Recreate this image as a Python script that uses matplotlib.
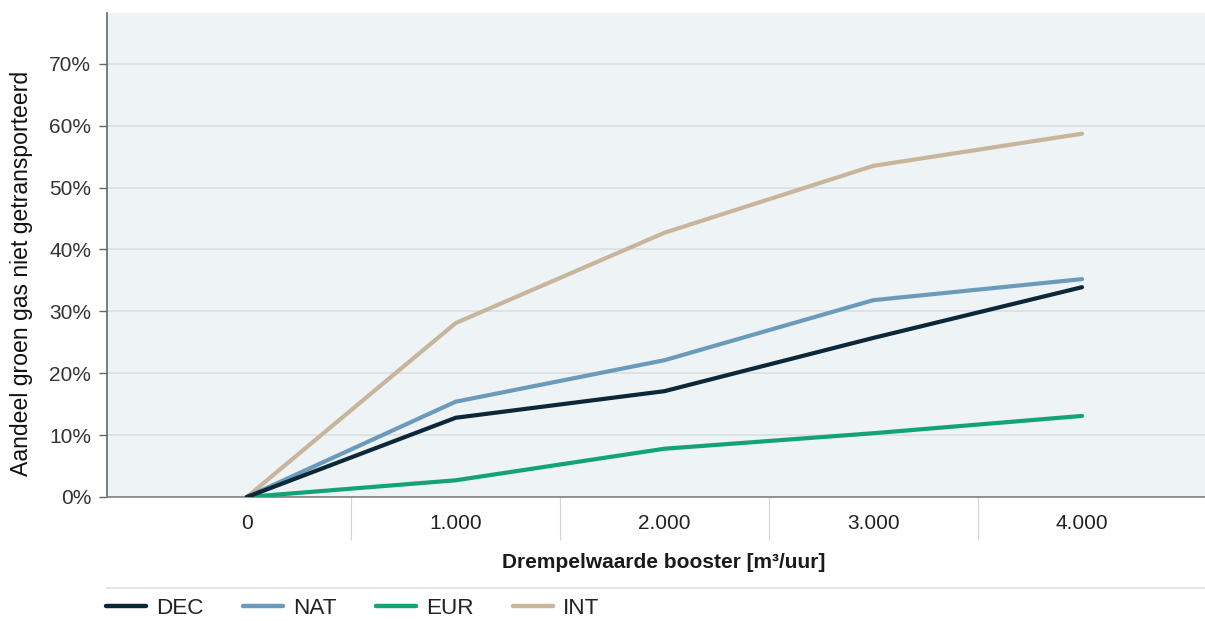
import matplotlib
matplotlib.use("Agg")
import matplotlib.pyplot as plt
from matplotlib.lines import Line2D
from matplotlib.ticker import FixedLocator, FuncFormatter

plt.rcParams['font.family'] = ['Liberation Sans', 'DejaVu Sans']

# Data
x_values = [0, 1000, 2000, 3000, 4000]
x_labels = ["0", "1.000", "2.000", "3.000", "4.000"]
series_names = ["DEC", "NAT", "EUR", "INT"]
dec = [0, 12.8, 17.1, 25.7, 33.9]
nat = [0, 15.4, 22.1, 31.8, 35.2]
eur = [0, 2.7, 7.8, 10.3, 13.1]
int_ = [0, 28.1, 42.7, 53.5, 58.7]
y_ticks = [0, 10, 20, 30, 40, 50, 60, 70]

colors = {"DEC": "#0c2738", "NAT": "#6b9bba", "EUR": "#12a474", "INT": "#c8b69c"}
values = {"DEC": dec, "NAT": nat, "EUR": eur, "INT": int_}

fig = plt.figure(figsize=(12.05, 6.21), dpi=100)
ax = fig.add_axes([107/1205, 1-497/621, 1-107/1205, (497-13)/621])
ax.set_facecolor("#eef3f6")

for name in ["INT", "NAT", "EUR", "DEC"]:
    ax.plot(x_values, values[name], color=colors[name], lw=3.0,
            solid_capstyle="round", zorder=3)

ax.set_xlim(-670, 4589)
ax.set_ylim(0, 78.2)

ax.yaxis.set_major_locator(FixedLocator(y_ticks))
ax.yaxis.set_major_formatter(FuncFormatter(lambda v, p: f"{int(v)}%"))
ax.grid(axis="y", color="#d9dfe3", lw=1.2, zorder=0)
ax.set_axisbelow(True)

ax.set_xticks(x_values)
ax.set_xticklabels(x_labels)
seps = [(x_values[i] + x_values[i+1]) / 2 for i in range(len(x_values) - 1)]
ax.set_xticks(seps, minor=True)
ax.tick_params(axis="x", which="major", length=0, pad=12.5, labelsize=15, labelcolor="#222222")
ax.tick_params(axis="x", which="minor", length=31, width=0.8, color="#d4d4d4", direction="out")
ax.tick_params(axis="y", length=6, width=1, color="#666666", labelsize=15, labelcolor="#333333", pad=5.5)

for s in ["top", "right"]:
    ax.spines[s].set_visible(False)
ax.spines["left"].set_color("#666666")
ax.spines["left"].set_linewidth(1.2)
ax.spines["bottom"].set_color("#808080")
ax.spines["bottom"].set_linewidth(1.2)

ax.set_ylabel("Aandeel groen gas niet getransporteerd", fontsize=16.6, color="#111111")
ax.yaxis.set_label_coords(-(107 - 33) / 1098, (497 - 273) / 484)
ax.set_xlabel("Drempelwaarde booster [m³/uur]", fontsize=15, fontweight="bold",
              color="#1a1a1a", labelpad=7)
ax.xaxis.set_label_coords((664 - 107) / 1098, -(563 - 497) / 484)
ax.xaxis.label.set_verticalalignment("center")

# separator line above legend
fig.add_artist(Line2D([107/1205, 1.0], [1-588/621, 1-588/621], color="#e0e0e0", lw=1.2))

handles = [Line2D([0], [0], color=colors[n], lw=3.2, solid_capstyle="round") for n in series_names]
leg = fig.legend(handles, series_names, loc="center left", bbox_to_anchor=(97/1205, 1-608/621),
                 ncol=4, frameon=False, fontsize=16.2, handlelength=1.78, handletextpad=0.45,
                 columnspacing=1.75, borderaxespad=0.0)
for t in leg.get_texts():
    t.set_color("#222222")

fig.savefig("out.png", dpi=100)
